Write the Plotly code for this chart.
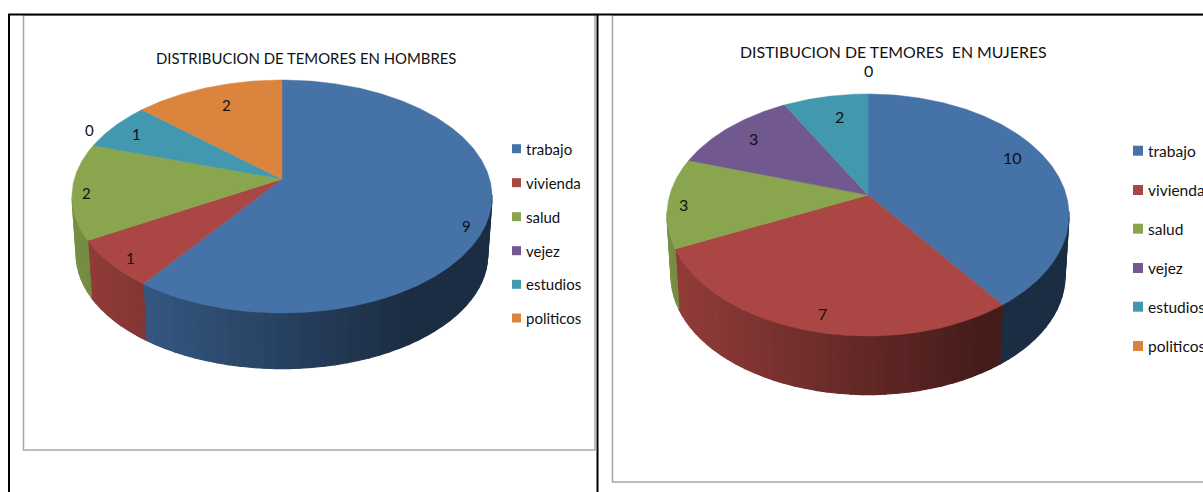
import math
import plotly.graph_objects as go

categories = ["trabajo", "vivienda", "salud", "vejez", "estudios", "politicos"]
hombres = [9, 1, 2, 0, 1, 2]
mujeres = [10, 7, 3, 3, 2, 0]
title_hombres = "DISTRIBUCION DE TEMORES EN HOMBRES"
title_mujeres = "DISTIBUCION DE TEMORES  EN MUJERES"

colors = ["#4572A7", "#AA4643", "#89A54E", "#71588F", "#4198AF", "#DB843D"]
FONT = "Lato"
TEXT = "#111111"


def hex_rgb(h):
    return tuple(int(h[i:i + 2], 16) for i in (1, 3, 5))


def shade(h, f):
    r, g, b = hex_rgb(h)
    return f"rgb({int(r * f)},{int(g * f)},{int(b * f)})"


def pie3d(fig, values, geo):
    cx, cy, rx, ry, a, depth = geo["cx"], geo["cy"], geo["rx"], geo["ry"], geo["a"], geo["depth"]
    k = 0.98

    def proj(theta):
        u, v = math.sin(theta), -math.cos(theta)
        d = 1 + a * v
        return u * math.sqrt(1 - a * a) / d, (v + a) / d

    def top(theta):
        u, v = proj(theta)
        return cx + rx * u, cy + ry * v

    def bottom(theta):
        u, v = proj(theta)
        return cx + k * rx * u, cy + depth + k * ry * v

    total = sum(values)
    spans = []
    s = 0.0
    for val, col in zip(values, colors):
        e = s + 2 * math.pi * val / total
        if val > 0:
            spans.append((s, e, col))
        s = e

    # side wall: overlapping bands shaded across the width of the pie
    for s, e, col in spans:
        n = max(2, int((e - s) / 0.05))
        for i in range(n):
            t0 = s + (e - s) * i / n
            t1 = s + (e - s) * (i + 1) / n
            if proj((t0 + t1) / 2)[1] < -0.01:
                continue
            sub = [t0 + (t1 - t0) * j / 4 for j in range(5)]
            upper = [top(t) for t in sub]
            lower = [bottom(t) for t in reversed(sub)]
            ring = upper + lower + [upper[0]]
            mid_x = top((t0 + t1) / 2)[0]
            frac = min(1, max(0, (mid_x - (cx - rx)) / (2 * rx) / 0.8))
            c = shade(col, 0.87 - 0.47 * frac)
            fig.add_trace(go.Scatter(x=[p[0] for p in ring], y=[p[1] for p in ring],
                                     mode="lines", fill="toself", fillcolor=c,
                                     line=dict(color=c, width=1.2), hoverinfo="skip",
                                     showlegend=False))
    # top face
    apex = (cx, cy + ry * a)
    for s, e, col in spans:
        n = max(2, int((e - s) / 0.01))
        pts = [top(s + (e - s) * i / n) for i in range(n + 1)]
        xs = [apex[0]] + [p[0] for p in pts] + [apex[0]]
        ys = [apex[1]] + [p[1] for p in pts] + [apex[1]]
        fig.add_trace(go.Scatter(x=xs, y=ys, mode="lines", fill="toself", fillcolor=col,
                                 line=dict(color=col, width=0.5), hoverinfo="skip",
                                 showlegend=False))


def legend(fig, x_sq, x_txt, ys, size, fsize):
    for cat, col, y in zip(categories, colors, ys):
        fig.add_trace(go.Scatter(x=[x_sq], y=[y], mode="markers",
                                 marker=dict(symbol="square", size=size, color=col),
                                 hoverinfo="skip", showlegend=False))
        fig.add_annotation(x=x_txt, y=y, text=cat, showarrow=False, xanchor="left",
                           yanchor="middle", font=dict(family=FONT, size=fsize, color=TEXT))


fig = go.Figure()

pie3d(fig, hombres, dict(cx=282, cy=196.5, rx=210, ry=116.5, a=-0.15, depth=58))
pie3d(fig, mujeres, dict(cx=868, cy=215, rx=201, ry=121, a=-0.165, depth=61))

legend(fig, 516.5, 523.5, [148.7, 182.7, 216.7, 250.7, 284.3, 318], 9, 15)
legend(fig, 1138, 1145.5, [150.7, 190, 228.7, 268, 306.7, 346], 10, 15.5)

label_pos_h = [(466, 226), (130, 258), (86, 193), (89, 130), (136, 134), (226, 105)]
label_pos_m = [(1012, 157), (822, 313), (683, 204), (753, 138), (839, 116), (868, 70)]
for vals, pos, fs in ((hombres, label_pos_h, 15), (mujeres, label_pos_m, 16)):
    for v, (lx, ly) in zip(vals, pos):
        fig.add_annotation(x=lx, y=ly, text=str(v), showarrow=False, xanchor="center",
                           yanchor="middle", font=dict(family=FONT, size=fs, color=TEXT))

fig.add_annotation(x=306, y=58, text=title_hombres, showarrow=False, xanchor="center",
                   yanchor="middle", font=dict(family=FONT, size=14.9, color=TEXT))
fig.add_annotation(x=893, y=51, text=title_mujeres, showarrow=False, xanchor="center",
                   yanchor="middle", font=dict(family=FONT, size=15.9, color=TEXT))

gray = "#a6a6a6"
shapes = [
    dict(type="rect", x0=23.5, y0=15, x1=595, y1=450, line=dict(color=gray, width=1.5), layer="below"),
    dict(type="rect", x0=612.5, y0=15, x1=1260, y1=482, line=dict(color=gray, width=1.5), layer="below"),
    dict(type="line", x0=8, y0=14.5, x1=1203, y1=14.5, line=dict(color="black", width=2)),
    dict(type="line", x0=9, y0=14, x1=9, y1=492, line=dict(color="black", width=2)),
    dict(type="line", x0=597.5, y0=14, x1=597.5, y1=492, line=dict(color="black", width=2)),
]

fig.update_layout(
    width=1203, height=492, margin=dict(l=0, r=0, t=0, b=0),
    paper_bgcolor="white", plot_bgcolor="white", showlegend=False, shapes=shapes,
    xaxis=dict(range=[0, 1203], visible=False, fixedrange=True),
    yaxis=dict(range=[492, 0], visible=False, fixedrange=True),
)
fig.write_html("out.html", config=dict(displayModeBar=False),
               post_script="document.body.style.margin='0';document.body.style.overflow='hidden';")
